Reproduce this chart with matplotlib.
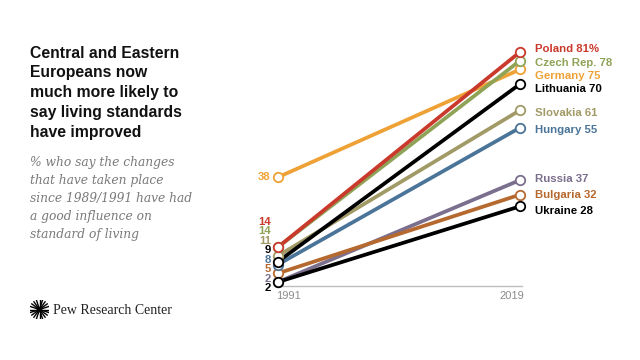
import numpy as np
import matplotlib
matplotlib.use('Agg')
import matplotlib.pyplot as plt
from matplotlib import transforms

# data
countries = ['Germany', 'Russia', 'Bulgaria', 'Hungary', 'Slovakia',
             'Czech Rep.', 'Poland', 'Lithuania', 'Ukraine']
years = [1991, 2019]
v1991 = [38, 2, 5, 8, 11, 14, 14, 9, 2]
v2019 = [75, 37, 32, 55, 61, 78, 81, 70, 28]
colors = ['#eea236', '#7b6f8e', '#b6692f', '#4b7499', '#a29a66',
          '#8fa357', '#c9392c', '#000000', '#000000']

W, H = 640, 360
LBL = 'Liberation Sans'
fig = plt.figure(figsize=(6.4, 3.6), dpi=100)

# axes in pixel layout: x 278..520, y 286 (bottom) .. 52 (top)
ax = fig.add_axes([278 / W, (H - 286) / H, (520 - 278) / W, (286 - 52) / H])
ax.set_xlim(1991, 2019)
ax.set_ylim(0.63, 81)
ax.axis('off')


def off(dx, dy):
    # offset in pixels (dpi 100)
    return transforms.offset_copy(ax.transData, fig=fig, x=dx * 0.72, y=dy * 0.72, units='points')


for c, a, b, col in zip(countries, v1991, v2019, colors):
    ax.plot(years, [a, b], color=col, lw=2.7, solid_capstyle='butt', zorder=2, clip_on=False)
    ax.plot(years, [a, b], 'o', ms=6.8, mfc='white', mec=col, mew=1.3, zorder=3, clip_on=False)

# baseline
ax.plot([1990.85, 2019.2], [0.63, 0.63], color='#bdbdbd', lw=1, clip_on=False, zorder=1)
ax.text(1990.75, 0.63, '1991', transform=off(0, -10), ha='left', va='center',
        fontsize=8, color='#8c8c8c', family='Liberation Sans')
ax.text(2019.5, 0.63, '2019', transform=off(0, -10), ha='right', va='center',
        fontsize=8, color='#8c8c8c', family='Liberation Sans')

# start labels (stacked column)
start_order = ['Poland', 'Czech Rep.', 'Slovakia', 'Lithuania', 'Hungary',
               'Bulgaria', 'Russia', 'Ukraine']
base = 288
for i, c in enumerate(start_order):
    k = countries.index(c)
    ypx = base - (len(start_order) - 1 - i) * 9.5
    yv = 2 - (ypx - 282) / 2.911
    ax.text(1991, yv, str(v1991[k]), transform=off(-7, 0), ha='right', va='center',
            fontsize=8.2, fontweight='bold', color=colors[k], family=LBL)
k = countries.index('Germany')
ax.text(1991, v1991[k], str(v1991[k]), transform=off(-8, 0), ha='right', va='center',
        fontsize=8.2, fontweight='bold', color=colors[k], family=LBL)

# end labels
end_nudge = {'Poland': 5, 'Czech Rep.': 0, 'Germany': -4, 'Lithuania': -2,
             'Slovakia': 0, 'Hungary': 0, 'Russia': 4, 'Bulgaria': 2, 'Ukraine': -2}
for c, b, col in zip(countries, v2019, colors):
    txt = f'{c} {b}%' if c == 'Poland' else f'{c} {b}'
    ax.text(2019, b, txt, transform=off(15, end_nudge[c] - 2.5), ha='left', va='center',
            fontsize=8.2, fontweight='bold', color=col, family=LBL)

# title and subtitle
title = ['Central and Eastern', 'Europeans now', 'much more likely to',
         'say living standards', 'have improved']
for i, line in enumerate(title):
    fig.text(30 / W, 1 - (53 + i * 20) / H, line, ha='left', va='center',
             fontsize=11.3, fontweight='bold', color='#111111', family='Liberation Sans')
sub = ['% who say the changes', 'that have taken place', 'since 1989/1991 have had',
       'a good influence on', 'standard of living']
for i, line in enumerate(sub):
    fig.text(30 / W, 1 - (163 + i * 17.8) / H, line, ha='left', va='center',
             fontsize=8.8, style='italic', color='#7a7a7a', family='DejaVu Serif')

# logo
lax = fig.add_axes([30 / W, 1 - 319 / H, 19 / W, 19 / H])
lax.set_xlim(-1, 1)
lax.set_ylim(-1, 1)
lax.axis('off')
for a in np.linspace(0, 2 * np.pi, 20, endpoint=False):
    lax.plot([0.3 * np.cos(a), np.cos(a)], [0.3 * np.sin(a), np.sin(a)], color='black', lw=1.0)
lax.add_patch(plt.Circle((0, 0), 0.2, color='black'))
fig.text(53 / W, 1 - 310 / H, 'Pew Research Center', ha='left', va='center',
         fontsize=10, color='#222222', family='Liberation Serif')

fig.savefig('out.png', dpi=100)
